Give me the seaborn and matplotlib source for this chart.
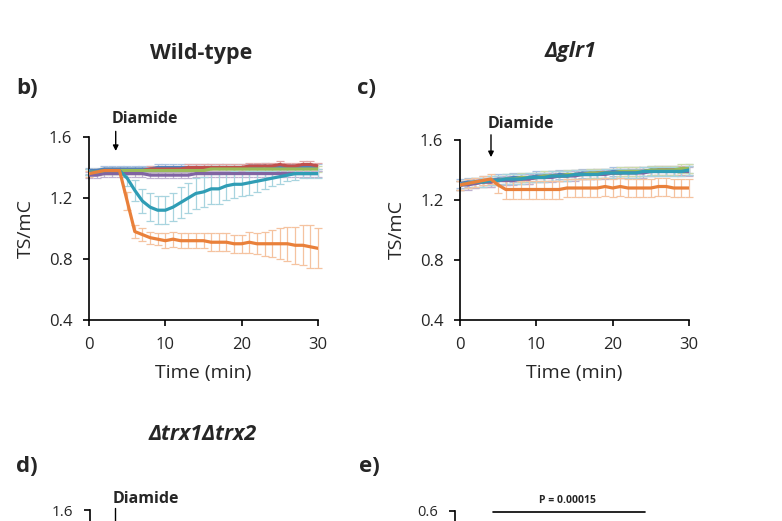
import numpy as np
import pandas as pd
import matplotlib
matplotlib.use("Agg")
import matplotlib.pyplot as plt
import seaborn as sns

sns.set_theme(style="white")
plt.rcParams['font.family'] = ['Open Sans', 'DejaVu Sans']

# ---------------- data ----------------
time = list(range(31))
series = ["blue", "red", "green", "purple", "teal", "orange"]

# Wild-type (panel b)
wt_blue = [1.38,1.38,1.39,1.39,1.39,1.39,1.39,1.39,1.39,1.40,1.40,1.40,1.40,1.40,1.40,1.40,
           1.40,1.40,1.40,1.40,1.40,1.40,1.40,1.41,1.40,1.40,1.40,1.40,1.40,1.40,1.40]
wt_red = [1.37,1.37,1.38,1.38,1.38,1.38,1.38,1.38,1.39,1.39,1.39,1.39,1.39,1.40,1.40,1.40,
          1.40,1.40,1.40,1.40,1.40,1.41,1.41,1.41,1.41,1.42,1.41,1.41,1.42,1.42,1.41]
wt_green = [1.37,1.37,1.38,1.38,1.38,1.38,1.38,1.38,1.38,1.38,1.38,1.38,1.38,1.38,1.38,1.38,
            1.39,1.39,1.39,1.39,1.39,1.39,1.39,1.39,1.39,1.39,1.39,1.39,1.39,1.39,1.39]
wt_purple = [1.35,1.35,1.36,1.36,1.36,1.36,1.36,1.36,1.35,1.35,1.35,1.35,1.35,1.35,1.36,1.36,
             1.36,1.36,1.36,1.36,1.36,1.36,1.36,1.36,1.36,1.36,1.36,1.36,1.36,1.36,1.36]
wt_teal = [1.37,1.37,1.38,1.38,1.38,1.33,1.25,1.18,1.14,1.12,1.12,1.14,1.17,1.20,1.23,1.24,
           1.26,1.26,1.28,1.29,1.29,1.30,1.31,1.32,1.33,1.34,1.35,1.36,1.36,1.36,1.36]
wt_orange = [1.36,1.37,1.38,1.38,1.38,1.18,0.98,0.96,0.94,0.93,0.92,0.93,0.92,0.92,0.92,0.92,
             0.91,0.91,0.91,0.90,0.90,0.91,0.90,0.90,0.90,0.90,0.90,0.89,0.89,0.88,0.87]
wt_err_small = [0.02] * 31
wt_teal_err = [0.02,0.02,0.02,0.02,0.02,0.05,0.07,0.08,0.09,0.09,0.09,0.09,0.10,0.10,0.10,0.10,
               0.10,0.10,0.09,0.09,0.08,0.08,0.07,0.06,0.05,0.05,0.04,0.04,0.03,0.03,0.03]
wt_orange_err = [0.02,0.02,0.02,0.02,0.02,0.06,0.04,0.04,0.04,0.04,0.05,0.05,0.05,0.05,0.05,0.05,
                 0.06,0.06,0.06,0.06,0.06,0.07,0.07,0.08,0.09,0.10,0.11,0.12,0.13,0.14,0.13]

# Δglr1 (panel c)
c_blue = [1.31,1.32,1.32,1.33,1.33,1.34,1.34,1.35,1.35,1.35,1.36,1.36,1.36,1.37,1.37,1.37,
          1.38,1.38,1.38,1.38,1.39,1.39,1.39,1.39,1.39,1.40,1.40,1.40,1.40,1.40,1.41]
c_red = [1.30,1.31,1.31,1.32,1.32,1.33,1.33,1.34,1.34,1.34,1.35,1.35,1.36,1.36,1.36,1.37,
         1.37,1.37,1.38,1.38,1.38,1.38,1.39,1.39,1.39,1.39,1.40,1.40,1.40,1.40,1.40]
c_green = [1.30,1.31,1.32,1.32,1.33,1.33,1.34,1.34,1.35,1.35,1.35,1.36,1.36,1.36,1.37,1.37,
           1.37,1.38,1.38,1.38,1.38,1.39,1.39,1.39,1.39,1.40,1.40,1.40,1.40,1.41,1.41]
c_purple = [1.30,1.30,1.31,1.32,1.32,1.33,1.33,1.33,1.34,1.34,1.35,1.35,1.35,1.36,1.36,1.36,
            1.37,1.37,1.37,1.37,1.38,1.38,1.38,1.38,1.38,1.39,1.39,1.39,1.39,1.39,1.39]
c_teal = [1.30,1.31,1.32,1.32,1.33,1.33,1.34,1.34,1.34,1.35,1.35,1.35,1.36,1.36,1.36,1.37,
          1.37,1.37,1.37,1.38,1.38,1.38,1.38,1.38,1.39,1.39,1.39,1.39,1.39,1.39,1.40]
c_orange = [1.30,1.31,1.32,1.33,1.34,1.30,1.27,1.27,1.27,1.27,1.27,1.27,1.27,1.27,1.28,1.28,
            1.28,1.28,1.28,1.29,1.28,1.29,1.28,1.28,1.28,1.28,1.29,1.29,1.28,1.28,1.28]
c_err = [0.03] * 31
c_orange_err = [0.03,0.03,0.03,0.03,0.03,0.05,0.06,0.06,0.06,0.06,0.06,0.06,0.06,0.06,0.06,0.06,
                0.06,0.06,0.06,0.06,0.06,0.06,0.06,0.06,0.06,0.06,0.06,0.06,0.06,0.06,0.06]

yticks = [0.4, 0.8, 1.2, 1.6]
xticks = [0, 10, 20, 30]

line_colors = {"blue": "#4F81BD", "red": "#C0504D", "green": "#9BBB59",
               "purple": "#8064A2", "teal": "#2F9DB5", "orange": "#E9803A"}
err_colors = {"blue": "#A9C2E2", "red": "#E2A9A8", "green": "#CDDDAC",
              "purple": "#BFB1D0", "teal": "#A8D4DF", "orange": "#F5C3A0"}

panel_b = {"blue": (wt_blue, wt_err_small), "red": (wt_red, wt_err_small),
           "green": (wt_green, wt_err_small), "purple": (wt_purple, wt_err_small),
           "teal": (wt_teal, wt_teal_err), "orange": (wt_orange, wt_orange_err)}
panel_c = {"blue": (c_blue, c_err), "red": (c_red, c_err), "green": (c_green, c_err),
           "purple": (c_purple, c_err), "teal": (c_teal, c_err), "orange": (c_orange, c_orange_err)}

W, H = 782, 521
fig = plt.figure(figsize=(W / 100, H / 100), dpi=100)


def ax_rect(left, top, right, bottom):
    return [left / W, 1 - bottom / H, (right - left) / W, (bottom - top) / H]


TXT = "#262626"


def style_axis(ax, ylim=(0.4, 1.6), yt=yticks, xt=xticks, xlim=(0, 30),
               ylabels=None, xlabels=None, labelsize=12):
    ax.set_xlim(*xlim)
    ax.set_ylim(*ylim)
    ax.set_yticks(yt)
    ax.set_xticks(xt)
    ax.set_yticklabels(ylabels if ylabels is not None else [f"{v:.1f}" for v in yt])
    ax.set_xticklabels(xlabels if xlabels is not None else [str(v) for v in xt])
    for s in ["top", "right"]:
        ax.spines[s].set_visible(False)
    for s in ["left", "bottom"]:
        ax.spines[s].set_color("black")
        ax.spines[s].set_linewidth(1.2)
    ax.tick_params(axis="both", which="major", direction="out", length=4, width=1.2,
                   color="black", labelsize=labelsize, labelcolor=TXT, pad=8,
                   left=True, bottom=True)
    ax.grid(False)
    ax.patch.set_alpha(0)


def draw_panel(ax, data):
    rows = []
    for name in series:
        vals, errs = data[name]
        ax.errorbar(time, vals, yerr=errs, fmt="none", ecolor=err_colors[name],
                    elinewidth=0.9, capsize=3, capthick=0.9, zorder=1, clip_on=False)
        for t, v in zip(time, vals):
            rows.append({"time": t, "value": v, "series": name})
    df = pd.DataFrame(rows)
    sns.lineplot(data=df, x="time", y="value", hue="series", hue_order=series,
                 palette=line_colors, linewidth=2.3, legend=False, ax=ax, zorder=3)
    ax.set_xlabel("Time (min)", fontsize=14, color=TXT, labelpad=8)
    ax.set_ylabel("TS/mC", fontsize=14, color=TXT, labelpad=10)


# Panel b
ax_b = fig.add_axes(ax_rect(89, 137, 318, 320))
draw_panel(ax_b, panel_b)
style_axis(ax_b)
ax_b.text(3.0, 1.716, "Diamide", fontsize=11.5, fontweight="bold", color=TXT,
          ha="left", va="center", clip_on=False)
ax_b.annotate("", xy=(3.5, 1.49), xytext=(3.5, 1.655),
              arrowprops=dict(arrowstyle="-|>", color="black", lw=1.0,
                              mutation_scale=8), annotation_clip=False)

# Panel c
ax_c = fig.add_axes(ax_rect(460, 140, 689, 320))
draw_panel(ax_c, panel_c)
style_axis(ax_c)
ax_c.text(3.6, 1.707, "Diamide", fontsize=11.5, fontweight="bold", color=TXT,
          ha="left", va="center", clip_on=False)
ax_c.annotate("", xy=(4.06, 1.467), xytext=(4.06, 1.653),
              arrowprops=dict(arrowstyle="-|>", color="black", lw=1.0,
                              mutation_scale=8), annotation_clip=False)

# Panel d (only its top is visible)
ax_d = fig.add_axes(ax_rect(90, 510, 319, 693))
style_axis(ax_d, ylabels=["", "", "", "1.6"], xlabels=["", "", "", ""], labelsize=11)
ax_d.text(2.9, 1.675, "Diamide", fontsize=11.5, fontweight="bold", color=TXT,
          ha="left", va="center", clip_on=False)
ax_d.plot([3.3, 3.3], [1.612, 1.2], color="black", lw=1.0, clip_on=False)

# Panel e (only its top is visible)
ax_e = fig.add_axes(ax_rect(455, 511, 690, 694))
style_axis(ax_e, ylim=(0.0, 0.6), yt=[0.0, 0.2, 0.4, 0.6], xt=[], xlim=(0, 1),
           ylabels=["", "", "", "0.6"], xlabels=[], labelsize=10.5)
ax_e.plot([0.16, 0.81], [0.598, 0.598], color="black", lw=1.2, clip_on=False)
ax_e.text(0.48, 0.617, "P = 0.00015", fontsize=7.5, fontweight="bold", color=TXT,
          ha="center", va="bottom", clip_on=False)

# Figure titles / panel letters
fig.text(201 / W, 1 - 53 / H, "Wild-type", fontsize=15.5, fontweight="bold",
         color=TXT, ha="center", va="center")
fig.text(570 / W, 1 - 52 / H, "Δglr1", fontsize=15.5, fontweight="bold", style="italic",
         color=TXT, ha="center", va="center")
fig.text(203 / W, 1 - 435 / H, "Δtrx1Δtrx2", fontsize=15.5, fontweight="bold", style="italic",
         color=TXT, ha="center", va="center")
fig.text(27 / W, 1 - 89 / H, "b)", fontsize=16, fontweight="bold", color=TXT,
         ha="center", va="center")
fig.text(367 / W, 1 - 89 / H, "c)", fontsize=16, fontweight="bold", color=TXT,
         ha="center", va="center")
fig.text(27 / W, 1 - 466 / H, "d)", fontsize=16, fontweight="bold", color=TXT,
         ha="center", va="center")
fig.text(369 / W, 1 - 466 / H, "e)", fontsize=16, fontweight="bold", color=TXT,
         ha="center", va="center")

fig.savefig("out.png", dpi=100)
